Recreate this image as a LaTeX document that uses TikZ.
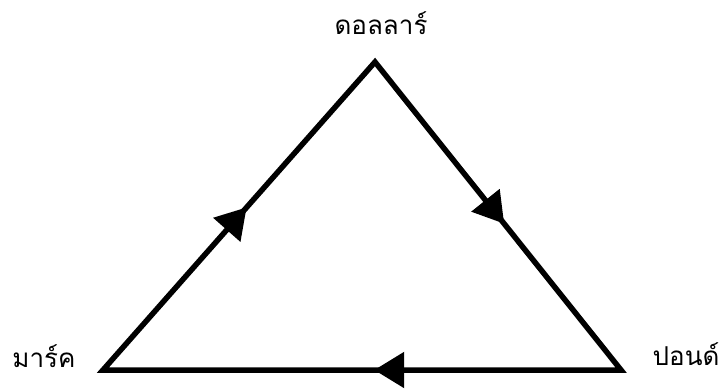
\documentclass[tikz,border=0pt]{standalone}
\usepackage{fontspec}
\newfontfamily\thaifont[Script=Thai]{Loma}
\usetikzlibrary{arrows.meta,decorations.markings}
\tikzset{
  cur/.style={font=\thaifont\fontsize{26}{30}\selectfont, inner sep=0pt, anchor=center},
  edge/.style={line width=5.5pt, line join=miter, draw=black},
  flow/.style={postaction={decorate}, decoration={markings,
    mark=at position 0.164 with {\arrow{Triangle[length=30pt,width=35pt]}},
    mark=at position 0.467 with {\arrow{Triangle[length=30pt,width=35pt]}},
    mark=at position 0.795 with {\arrow{Triangle[length=30pt,width=35pt]}}}},
}

\begin{document}
\begin{tikzpicture}[x=1pt, y=-1pt]
  \useasboundingbox (0,0) rectangle (725,388);

  % corners of the triangle
  \coordinate (dollar) at (375,62);
  \coordinate (mark)   at (103,370);
  \coordinate (pound)  at (621,370);

  \node[cur] (ldollar) at (381,23)  {ดอลลาร์};
  \node[cur] (lmark)   at (44,356)  {มาร์ค};
  \node[cur] (lpound)  at (686,354) {ปอนด์};

  \draw[edge, flow] (mark) -- (dollar) -- (pound) -- cycle;

\end{tikzpicture}
\end{document}
